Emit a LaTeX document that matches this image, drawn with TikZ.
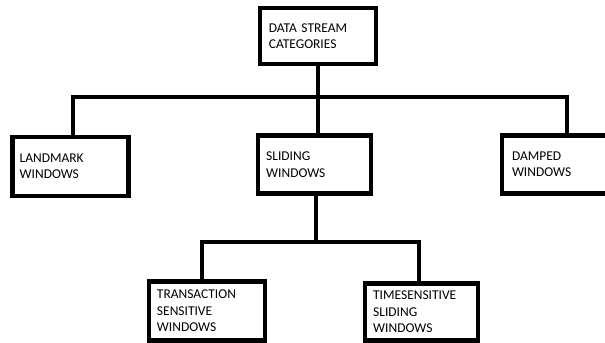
\documentclass[tikz,border=0pt]{standalone}
\usepackage{fontspec}
\setmainfont{Carlito}
\usepackage{tikz}

\tikzset{
    catbox/.style={draw=black, line width=0.14cm, rectangle, inner xsep=0.22cm,
        align=left, font=\fontsize{11.5}{14}\selectfont},
    link/.style={draw=black, line width=0.11cm}
}

\begin{document}
\begin{tikzpicture}[x=0.03cm, y=-0.03cm]
    \useasboundingbox (0,0) rectangle (605,343);

    % root
    \node[catbox, minimum width=3.48cm, minimum height=1.68cm, text width=2.95cm] at (318,36) (root) {DATA STREAM\\CATEGORIES};

    % first level
    \node[catbox, minimum width=3.39cm, minimum height=1.77cm, text width=3.05cm] at (70.5,166.5) (landmark) {LANDMARK\\WINDOWS};
    \node[catbox, minimum width=3.39cm, minimum height=1.74cm, text width=2.9cm] at (314.5,164.5) (sliding) {SLIDING\\WINDOWS};
    \node[catbox, minimum width=3.9cm, minimum height=1.74cm, text width=3.3cm] at (567,164.5) (damped) {DAMPED\\WINDOWS};

    % second level
    \node[catbox, minimum width=3.48cm, minimum height=1.78cm, text width=3.0cm] at (207,311) (transaction) {TRANSACTION\\SENSITIVE\\WINDOWS};
    \node[catbox, minimum width=3.39cm, minimum height=1.72cm, text width=2.9cm] at (421.5,312) (timesens) {TIMESENSITIVE\\SLIDING\\WINDOWS};

    \coordinate (bus) at (318,97);
    \coordinate (subbus) at (316,242);

    \draw[link] (root.south -| bus) -- (bus);
    \draw[link] ([xshift=0.08cm]landmark.north) |- (bus) -| (damped.north);
    \draw[link] (bus) -- (bus |- sliding.north);
    \draw[link] (sliding.south -| subbus) -- (subbus);
    \draw[link] ([xshift=-0.15cm]transaction.north) |- (subbus) -| ([xshift=-0.08cm]timesens.north);

\end{tikzpicture}
\end{document}
